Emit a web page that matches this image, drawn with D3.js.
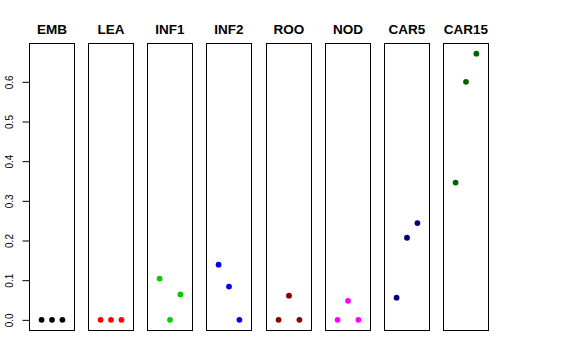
<!DOCTYPE html>
<html><head><meta charset="utf-8">
<script src="https://cdn.jsdelivr.net/npm/d3@7"></script>
<style>body{margin:0;background:#fff}svg{display:block}</style>
</head><body>
<script>
const categories = ["EMB","LEA","INF1","INF2","ROO","NOD","CAR5","CAR15"];
const colors = ["#000000","#FF0000","#00CD00","#0000FF","#8B0000","#FF00FF","#000080","#006400"];
const positions = [1,2,3];
const vEMB = [0,0,0];
const vLEA = [0,0,0];
const vINF1 = [0.104,0,0.064];
const vINF2 = [0.139,0.084,0];
const vROO = [0,0.061,0];
const vNOD = [0,0.048,0];
const vCAR5 = [0.056,0.207,0.244];
const vCAR15 = [0.346,0.600,0.671];
const seriesValues = [vEMB,vLEA,vINF1,vINF2,vROO,vNOD,vCAR5,vCAR15];
const yTicks = [0,0.1,0.2,0.3,0.4,0.5,0.6];

const W=576,H=360;
const svg=d3.select("body").append("svg").attr("width",W).attr("height",H);

const band=d3.scaleBand().domain(categories).range([29,488]).paddingInner(0.239).paddingOuter(0);
const ymin=0, ymax=0.671, pad=(ymax-ymin)*0.04;
const y=d3.scaleLinear().domain([ymin-pad,ymax+pad]).range([330.5,43]);

categories.forEach((c,i)=>{
  const x0=Math.round(band(c))+0.5, bw=Math.round(band.bandwidth());
  const x=d3.scaleLinear().domain([0-0.16,4+0.16]).range([x0,x0+bw]);
  const g=svg.append("g");
  g.append("rect").attr("x",x0).attr("y",43.5).attr("width",bw).attr("height",287)
    .attr("fill","none").attr("stroke","#000").attr("stroke-width",1);
  g.selectAll("circle").data(seriesValues[i]).join("circle")
    .attr("cx",(d,j)=>x(positions[j])).attr("cy",d=>y(d)).attr("r",2.9)
    .attr("fill",colors[i]);
  g.append("text").attr("x",x0+bw/2).attr("y",34).attr("text-anchor","middle")
    .attr("font-family","Liberation Sans, Arial, sans-serif").attr("font-weight","bold")
    .attr("font-size",13.5).text(c);
});

const ax=svg.append("g").attr("transform","translate(29.5,0)");
ax.call(d3.axisLeft(y).tickValues(yTicks).tickSize(7).tickFormat(d3.format(".1f")));
ax.select(".domain").attr("d",`M0,${y(0)}V${y(0.6)}`).attr("stroke","#000");
ax.selectAll(".tick line").attr("stroke","#000");
ax.selectAll(".tick text").attr("transform","rotate(-90)").attr("x",0).attr("y",-17)
  .attr("dy",0).attr("text-anchor","middle")
  .attr("font-family","Liberation Sans, Arial, sans-serif").attr("font-size",10).attr("fill","#000");
</script>
</body></html>
